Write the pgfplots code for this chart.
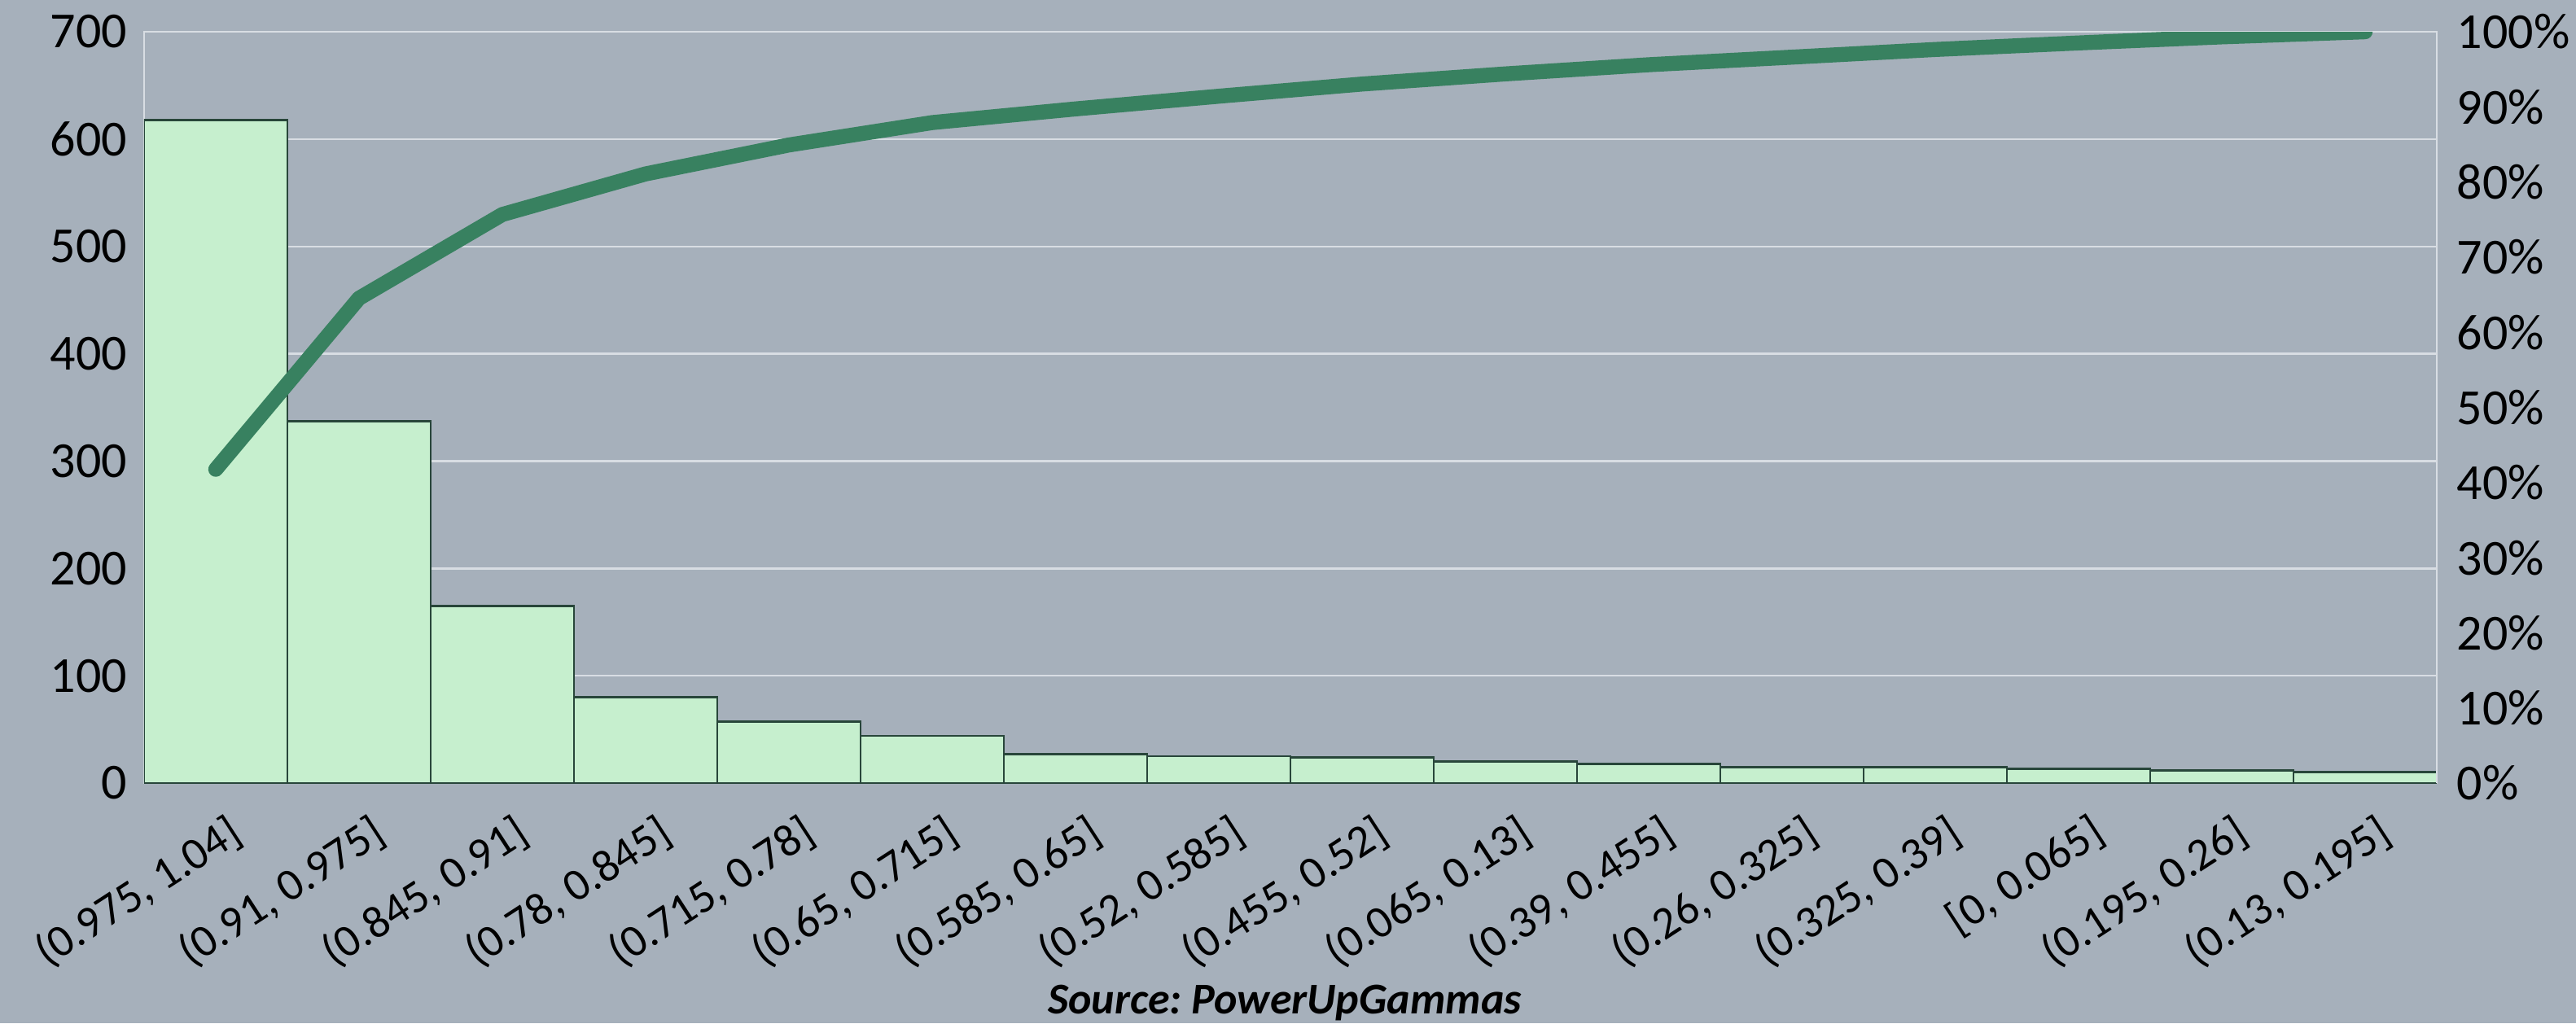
\documentclass[border=0pt]{standalone}
\usepackage{pgfplots}
\pgfplotsset{compat=1.18}
\usepackage{fontspec}
\setmainfont{Carlito}
\definecolor{bg}{RGB}{166,176,187}
\definecolor{barfill}{RGB}{198,239,206}
\definecolor{baredge}{RGB}{40,70,58}
\definecolor{linec}{RGB}{56,129,96}
\definecolor{gridc}{RGB}{216,221,227}
\begin{document}
\begin{tikzpicture}
\path[fill=bg, use as bounding box] (-44.25pt,-73.75pt) rectangle (746.75pt,240.5pt);
\begin{axis}[
  at={(0,0)}, anchor=south west,
  width=704pt, height=230.75pt, scale only axis,
  xmin=-0.5, xmax=15.5, ymin=0, ymax=700,
  ytick={0,100,...,700},
  xtick={0,...,15},
  xticklabels={{(0.975, 1.04]},{(0.91, 0.975]},{(0.845, 0.91]},{(0.78, 0.845]},{(0.715, 0.78]},{(0.65, 0.715]},{(0.585, 0.65]},{(0.52, 0.585]},{(0.455, 0.52]},{(0.065, 0.13]},{(0.39, 0.455]},{(0.26, 0.325]},{(0.325, 0.39]},{[0, 0.065]},{(0.195, 0.26]},{(0.13, 0.195]}},
  /pgf/number format/assume math mode=true,
  axis line style={gridc, line width=0.6pt},
  ymajorgrids, grid style={gridc, line width=0.6pt},
  major tick length=0pt,
  tick style={draw=none},
  yticklabel style={font=\fontsize{15.5}{18}\selectfont, anchor=east, inner sep=0pt, xshift=-5pt},
  xticklabel style={font=\fontsize{14}{16}\selectfont, rotate=33, anchor=north east, inner sep=0pt, yshift=-9pt, xshift=-2pt},
]
\addplot[ybar, bar width=1, fill=barfill, draw=baredge, line width=0.7pt] coordinates {
(0,618) (1,337) (2,165) (3,80) (4,57) (5,44) (6,27) (7,25) (8,24) (9,20) (10,18) (11,15) (12,15) (13,13) (14,12) (15,10)
};
\end{axis}
\begin{axis}[
  at={(0,0)}, anchor=south west,
  width=704pt, height=230.75pt, scale only axis,
  xmin=-0.5, xmax=15.5, ymin=0, ymax=100,
  hide x axis, axis y line*=right,
  ytick={0,10,...,100},
  yticklabel={\pgfmathprintnumber{\tick}\%},
  /pgf/number format/assume math mode=true,
  axis line style={gridc, line width=0.6pt},
  major tick length=0pt,
  tick style={draw=none},
  yticklabel style={font=\fontsize{15.5}{18}\selectfont, anchor=west, inner sep=0pt, xshift=6pt},
]
\addplot[linec, line width=4.6pt, line cap=round, line join=round] coordinates {
(0,41.76) (1,64.53) (2,75.68) (3,81.08) (4,84.93) (5,87.91) (6,89.73) (7,91.42) (8,93.04) (9,94.39) (10,95.61) (11,96.62) (12,97.64) (13,98.51) (14,99.32) (15,100)
};
\end{axis}
\node[font=\fontsize{13.5}{16}\selectfont\bfseries\itshape] at (350.25pt,-67.5pt) {Source:\ PowerUpGammas};
\end{tikzpicture}
\end{document}
